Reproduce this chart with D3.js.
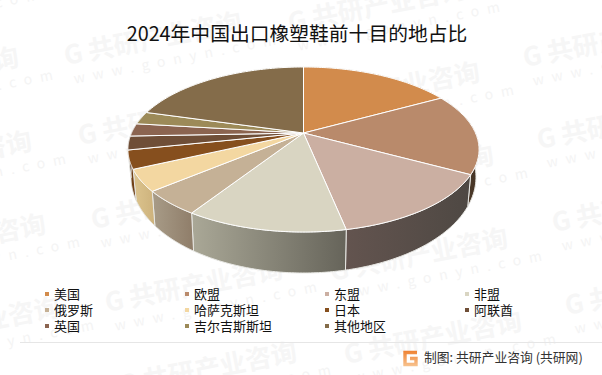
<!DOCTYPE html>
<html>
<head>
<meta charset="utf-8">
<title>2024年中国出口橡塑鞋前十目的地占比</title>
<style>
  html, body { margin: 0; padding: 0; background: #fff; }
  svg { display: block; }
  text { font-family: "Noto Sans CJK SC", "Liberation Sans", sans-serif; }
</style>
<script src="https://cdn.jsdelivr.net/npm/d3@7/dist/d3.min.js"></script>
</head>
<body>
<svg width="602" height="375"></svg>
<script>
var titleText = "2024年中国出口橡塑鞋前十目的地占比";
var sourceText = "制图: 共研产业咨询 (共研网)";

var categories = ["美国", "欧盟", "东盟", "非盟", "俄罗斯", "哈萨克斯坦", "日本", "阿联酋", "英国", "吉尔吉斯斯坦", "其他地区"];
var shares = [17.0, 15.9, 13.9, 12.3, 4.8, 4.2, 3.6, 2.7, 2.5, 2.5, 20.6];

var topColors = ["#d28b4c", "#b98a6b", "#cbafa2", "#d9d5c2", "#c5b196", "#f3d7a1", "#864f1e", "#6f4e37", "#8b6450", "#9c8a58", "#846c4a"];
var sideLeftColors = ["#8a5a30", "#57412f", "#63544f", "#aaa897", "#a89c88", "#dcc48e", "#7a4618", "#5f4230", "#765240", "#85754a", "#705a3c"];
var sideRightColors = ["#7a5028", "#453425", "#4e4843", "#66645a", "#8f7d69", "#cdb27c", "#6a3c14", "#503828", "#65463a", "#75663f", "#604e34"];

// watermark stamps repeat on a skewed grid
var markX = [-171, -157, -144, -130, -116, 66, 80, 93, 107, 121, 290, 304, 318, 332, 346, 525, 539, 554, 567, 580];
var markY = [20, 100, 184, 267, 350, 65, 145, 229, 312, 395, 32, 115, 198, 281, 364, 67, 149, 232, 315, 398];

var svg = d3.select("svg");

// ---- watermark ----
var marks = svg.append("g").selectAll("g")
    .data(markX.map(function(d, i) { return [d, markY[i]]; }))
    .enter().append("g")
    .attr("transform", function(d) { return "translate(" + d[0] + "," + d[1] + ") rotate(-11)"; });

marks.append("text")
    .attr("font-size", 26)
    .attr("font-weight", 700)
    .attr("fill", "#f6f6f6")
    .text("G 共研产业咨询");

marks.append("text")
    .attr("x", 5)
    .attr("y", 20)
    .attr("font-size", 14)
    .attr("letter-spacing", 8)
    .attr("fill", "#f4f4f4")
    .text("www.gonyn.com");

// ---- title ----
svg.append("text")
    .attr("x", 297)
    .attr("y", 40.5)
    .attr("text-anchor", "middle")
    .attr("font-size", 19.8)
    .attr("fill", "#111")
    .text(titleText);

// ---- pie in perspective ----
var k = 0.2;  // foreshortening of the disc
var topFace = {x: 303.5, y: 133, a: 172, b: 79.2};
var bottomFace = {x: 303.5, y: 158, a: 169, b: 92};

function project(face, angle) {
  var w = 1 + k * Math.cos(angle);
  return [face.x + face.a * Math.sin(angle) / w, face.y - face.b * Math.cos(angle) / w];
}

function arcPoints(face, a0, a1) {
  return d3.range(0, 61).map(function(i) {
    return project(face, a0 + (a1 - a0) * i / 60);
  });
}

var pie = d3.pie().sort(null);
var slices = pie(shares);
var line = d3.line();

var defs = svg.append("defs");
var grads = defs.selectAll("linearGradient")
    .data(slices)
    .enter().append("linearGradient")
    .attr("id", function(d, i) { return "side" + i; })
    .attr("gradientUnits", "objectBoundingBox");
// the arc runs clockwise, so on the right half the lighter end sits to the left anyway
grads.append("stop").attr("offset", "0").attr("stop-color", function(d, i) { return sideLeftColors[i]; });
grads.append("stop").attr("offset", "1").attr("stop-color", function(d, i) { return sideRightColors[i]; });

// side walls first, the top face covers whatever is hidden
svg.append("g").selectAll("path")
    .data(slices)
    .enter().append("path")
    .attr("d", function(d) {
      var upper = arcPoints(topFace, d.startAngle, d.endAngle);
      var lower = arcPoints(bottomFace, d.startAngle, d.endAngle).reverse();
      return line(upper.concat(lower)) + "Z";
    })
    .attr("fill", function(d, i) { return "url(#side" + i + ")"; })
    .attr("stroke", "#e8e8e4")
    .attr("stroke-width", 1);

svg.append("g").selectAll("path")
    .data(slices)
    .enter().append("path")
    .attr("d", function(d) {
      var pts = arcPoints(topFace, d.startAngle, d.endAngle);
      pts.unshift([topFace.x, topFace.y]);
      return line(pts) + "Z";
    })
    .attr("fill", function(d, i) { return topColors[i]; })
    .attr("stroke", "#fff")
    .attr("stroke-width", 1);

// ---- legend ----
var legendX = d3.scalePoint().domain([0, 1, 2, 3]).range([45, 465]);
var legendY = d3.scalePoint().domain([0, 1, 2]).range([294, 326]);

var legend = svg.append("g").selectAll("g")
    .data(categories)
    .enter().append("g")
    .attr("transform", function(d, i) {
      return "translate(" + legendX(i % 4) + "," + legendY(Math.floor(i / 4)) + ")";
    });

legend.append("rect")
    .attr("x", 0)
    .attr("y", -2)
    .attr("width", 4)
    .attr("height", 4)
    .attr("fill", function(d, i) { return topColors[i]; });

legend.append("text")
    .attr("x", 9)
    .attr("y", 5)
    .attr("font-size", 13)
    .attr("fill", "#111")
    .text(function(d) { return d; });

// ---- footer ----
svg.append("line")
    .attr("x1", 20).attr("x2", 602)
    .attr("y1", 342.5).attr("y2", 342.5)
    .attr("stroke", "#e6e6e6");

var logoGrad = defs.append("linearGradient")
    .attr("id", "logoGrad")
    .attr("gradientUnits", "userSpaceOnUse")
    .attr("x1", 0).attr("y1", 350).attr("x2", 0).attr("y2", 367);
logoGrad.append("stop").attr("offset", "0").attr("stop-color", "#ee7f2e");
logoGrad.append("stop").attr("offset", "1").attr("stop-color", "#f8c694");

svg.append("path")
    .attr("d", "M417,352.5H405V364.5H416V358.5H410")
    .attr("fill", "none")
    .attr("stroke", "url(#logoGrad)")
    .attr("stroke-width", 3.4);

svg.append("text")
    .attr("x", 424)
    .attr("y", 362)
    .attr("font-size", 12.8)
    .attr("fill", "#333")
    .text(sourceText);
</script>
</body>
</html>
